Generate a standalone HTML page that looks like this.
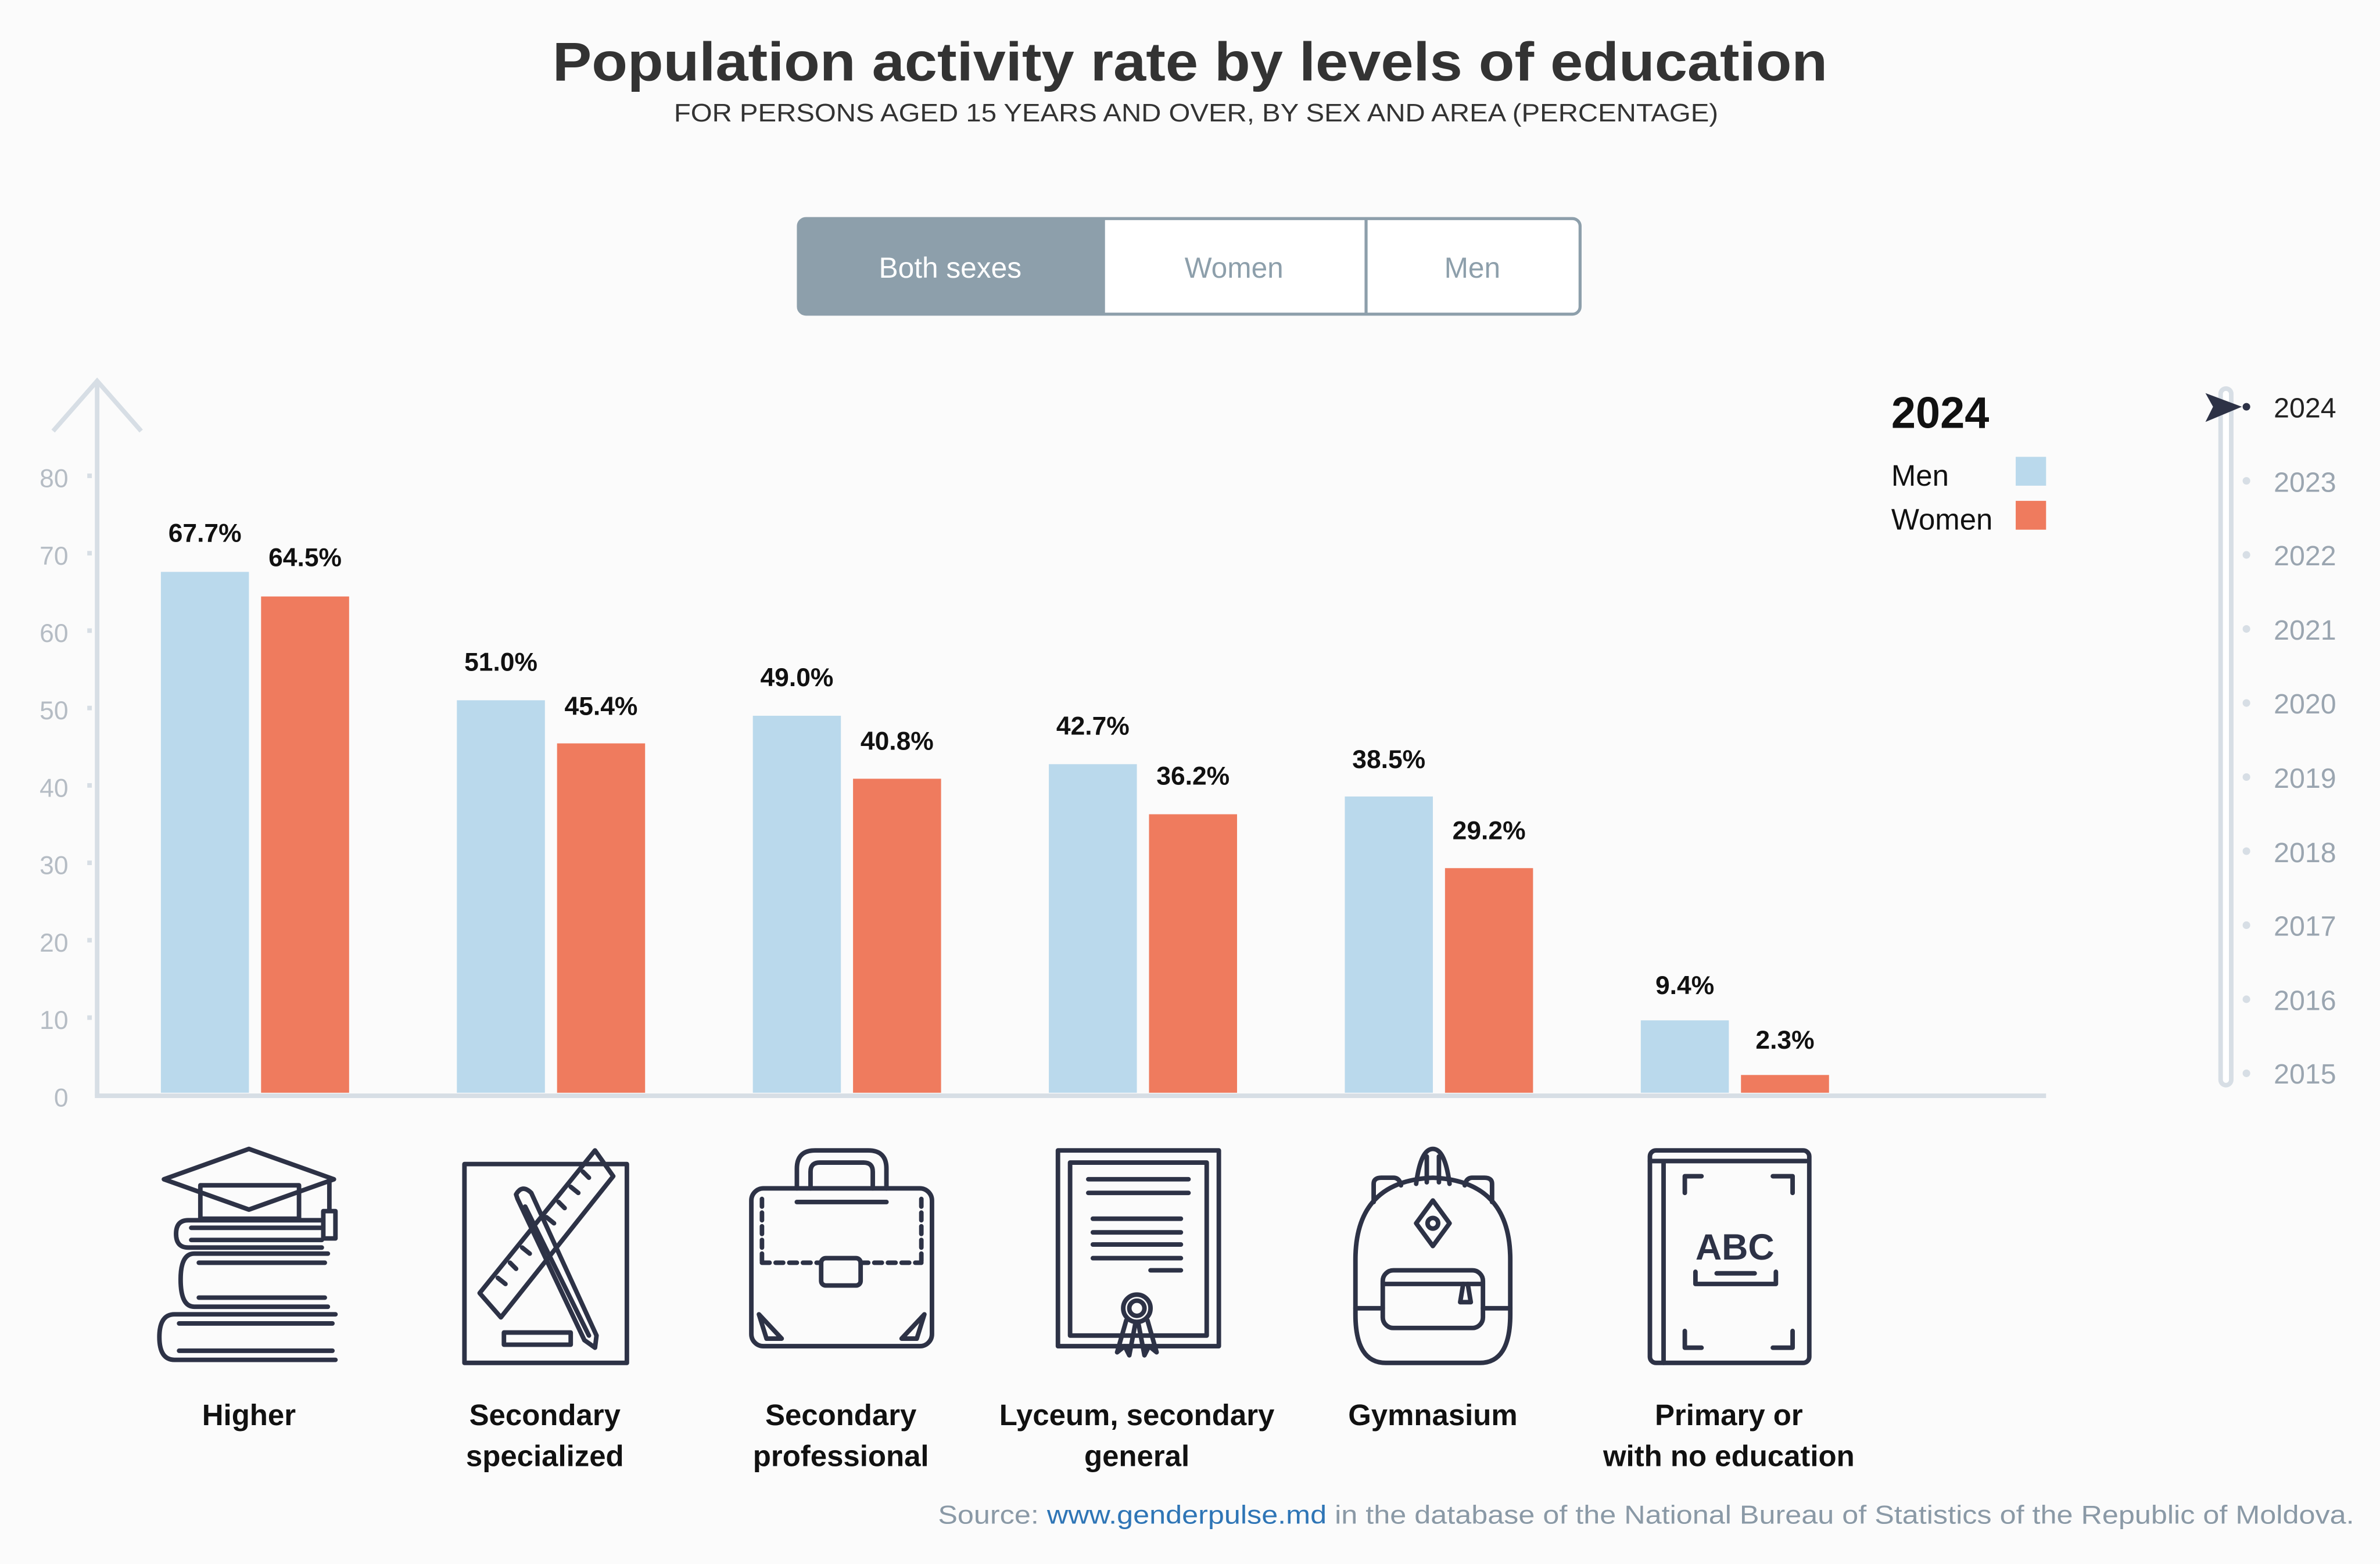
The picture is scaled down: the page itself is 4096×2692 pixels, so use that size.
<!DOCTYPE html>
<html><head><meta charset="utf-8"><style>
html,body{margin:0;padding:0;background:#fbfbfb;}
svg{display:block;}
text{font-family:"Liberation Sans",sans-serif;}
</style></head><body>
<svg width="4096" height="2692" viewBox="0 0 1568 1030.5" xmlns="http://www.w3.org/2000/svg">
<rect width="1568" height="1030.5" fill="#fbfbfb"/>
<text x="784" y="53" text-anchor="middle" font-size="36" font-weight="bold" fill="#333" textLength="840" lengthAdjust="spacingAndGlyphs">Population activity rate by levels of education</text>
<text x="788" y="80" text-anchor="middle" font-size="16.5" fill="#333" textLength="688" lengthAdjust="spacingAndGlyphs">FOR PERSONS AGED 15 YEARS AND OVER, BY SEX AND AREA (PERCENTAGE)</text>

<!-- buttons -->
<rect x="526" y="144" width="515" height="63" rx="5" fill="#fff" stroke="#8d9fab" stroke-width="2"/>
<path d="M531 144 H728 V207 H531 Q526 207 526 202 V149 Q526 144 531 144 Z" fill="#8d9fab"/>
<line x1="900" y1="144" x2="900" y2="207" stroke="#8d9fab" stroke-width="2"/>
<text x="626" y="183" text-anchor="middle" font-size="19" fill="#fff">Both sexes</text>
<text x="813" y="183" text-anchor="middle" font-size="19" fill="#8d9fab">Women</text>
<text x="970" y="183" text-anchor="middle" font-size="19" fill="#8d9fab">Men</text>

<!-- axes -->
<g stroke="#d7dee5" stroke-width="3" fill="none">
<line x1="64" y1="252" x2="64" y2="722"/>
<polyline points="35,284 64,251 93,284"/>
<line x1="62.5" y1="722" x2="1348" y2="722"/>
</g>
<g font-size="17" fill="#b5bcc4" text-anchor="end">
<text x="45" y="729">0</text><text x="45" y="678">10</text><text x="45" y="627">20</text><text x="45" y="576">30</text><text x="45" y="525">40</text><text x="45" y="474">50</text><text x="45" y="423">60</text><text x="45" y="372">70</text><text x="45" y="321">80</text>
</g>
<g fill="#d7dee5">
<rect x="57.5" y="669" width="3" height="3"/><rect x="57.5" y="618" width="3" height="3"/><rect x="57.5" y="567" width="3" height="3"/><rect x="57.5" y="516" width="3" height="3"/><rect x="57.5" y="465" width="3" height="3"/><rect x="57.5" y="414" width="3" height="3"/><rect x="57.5" y="363" width="3" height="3"/><rect x="57.5" y="312" width="3" height="3"/>
</g>

<!-- bars -->
<g fill="#bad9ec">
<rect x="106" y="376.8" width="58" height="343.2"/>
<rect x="301" y="461.4" width="58" height="258.6"/>
<rect x="496" y="471.6" width="58" height="248.4"/>
<rect x="691" y="503.5" width="58" height="216.5"/>
<rect x="886" y="524.8" width="58" height="195.2"/>
<rect x="1081" y="672.3" width="58" height="47.7"/>
</g>
<g fill="#ef7b5e">
<rect x="172" y="393" width="58" height="327"/>
<rect x="367" y="489.8" width="58" height="230.2"/>
<rect x="562" y="513.1" width="58" height="206.9"/>
<rect x="757" y="536.5" width="58" height="183.5"/>
<rect x="952" y="572" width="58" height="148"/>
<rect x="1147" y="708.3" width="58" height="11.7"/>
</g>
<g font-size="17" font-weight="bold" fill="#111" text-anchor="middle">
<text x="135" y="357">67.7%</text><text x="201" y="373">64.5%</text>
<text x="330" y="442">51.0%</text><text x="396" y="471">45.4%</text>
<text x="525" y="452">49.0%</text><text x="591" y="494">40.8%</text>
<text x="720" y="484">42.7%</text><text x="786" y="517">36.2%</text>
<text x="915" y="506">38.5%</text><text x="981" y="553">29.2%</text>
<text x="1110" y="655">9.4%</text><text x="1176" y="691">2.3%</text>
</g>

<!-- legend -->
<text x="1246" y="282" font-size="29" font-weight="bold" fill="#111">2024</text>
<text x="1246" y="320" font-size="19.5" fill="#111">Men</text>
<text x="1246" y="349" font-size="19.5" fill="#111">Women</text>
<rect x="1328" y="301" width="20" height="19" fill="#bad9ec"/>
<rect x="1328" y="330" width="20" height="19" fill="#ef7b5e"/>

<!-- slider -->
<rect x="1463" y="256" width="7" height="459" rx="3.5" fill="#fff" stroke="#d7dee5" stroke-width="3"/>
<path d="M1453 259 L1477 268 L1453 278 L1458 268 Z" fill="#2d3246"/>
<circle cx="1480" cy="268" r="2.5" fill="#2d3246"/>
<g fill="#d7dee5">
<circle cx="1480" cy="316.8" r="2.5"/><circle cx="1480" cy="365.6" r="2.5"/><circle cx="1480" cy="414.4" r="2.5"/><circle cx="1480" cy="463.2" r="2.5"/><circle cx="1480" cy="512" r="2.5"/><circle cx="1480" cy="560.8" r="2.5"/><circle cx="1480" cy="609.6" r="2.5"/><circle cx="1480" cy="658.4" r="2.5"/><circle cx="1480" cy="707.2" r="2.5"/>
</g>
<text x="1498" y="275" font-size="18.5" fill="#222">2024</text>
<g font-size="18.5" fill="#9aa5b0">
<text x="1498" y="324">2023</text><text x="1498" y="372.5">2022</text><text x="1498" y="421.5">2021</text><text x="1498" y="470">2020</text><text x="1498" y="519">2019</text><text x="1498" y="568">2018</text><text x="1498" y="616.5">2017</text><text x="1498" y="665.5">2016</text><text x="1498" y="714">2015</text>
</g>

<!-- icons -->
<g stroke="#2d3246" stroke-width="3" fill="none" stroke-linecap="round" stroke-linejoin="round">
<!-- Higher -->
<polygon points="108,777 164,757 220,777 164,797"/>
<rect x="132" y="781" width="65" height="22"/>
<line x1="217" y1="778" x2="217" y2="798"/>
<rect x="213" y="798" width="8" height="18"/>
<path d="M212 804 H124 Q116 804 116 813 Q116 822 124 822 H212"/>
<path d="M212 809 H126 M212 817 H126"/>
<path d="M216 826 H128 Q119 826 119 843 Q119 861 128 861 H216"/>
<path d="M214 832 H131 M214 855 H131"/>
<path d="M221 866 H115 Q105 866 105 881 Q105 896 115 896 H221"/>
<path d="M219 872 H118 M219 890 H118"/>
<!-- Secondary specialized -->
<rect x="306" y="767" width="107" height="131"/>
<polygon points="392,758 404,775 330,868 316,852"/>
<path d="M384 772 l4 4 M376 782 l5 4 M368 792 l4 4 M360 802 l5 4 M352 812 l4 4 M344 822 l5 4 M336 832 l4 4 M328 842 l5 4"/>
<path d="M340 787 Q344 780 350 786 L393 880 L392 888 L385 883 L341 790 Z"/>
<line x1="346" y1="795" x2="388" y2="880"/>
<rect x="332" y="878" width="44" height="8"/>
<!-- Briefcase -->
<path d="M525 783 V770 Q525 758 537 758 H572 Q584 758 584 770 V783"/>
<path d="M534 783 V772 Q534 766 540 766 H569 Q575 766 575 772 V783"/>
<rect x="495" y="783" width="119" height="104" rx="8"/>
<line x1="525" y1="792" x2="584" y2="792"/>
<path d="M502 790 V832 M607 790 V832 M502 832 H541 M567 832 H607" stroke-dasharray="5,4"/>
<rect x="541" y="829" width="26" height="18" rx="3"/>
<path d="M500 866 L505 882 H515 Z M609 866 L604 882 H594 Z"/>
<!-- Diploma -->
<rect x="697" y="758" width="106" height="129"/>
<rect x="705" y="766" width="90" height="114"/>
<path d="M717 777 H783 M717 786 H783 M720 803 H778 M720 812 H778 M720 820 H778 M720 829 H778 M758 837 H778"/>
<circle cx="749" cy="862" r="9"/>
<circle cx="749" cy="862" r="5"/>
<path d="M742 870 L736 891 L741 887 L744 893 L748 872 M756 870 L762 891 L757 887 L754 893 L750 872"/>
<!-- Backpack -->
<path d="M893 866 V830 Q893 778 944 776 Q995 778 995 830 V866 Q995 898 975 898 H913 Q893 898 893 866 Z"/>
<path d="M933 780 Q936 757 944 757 Q952 757 955 780"/>
<path d="M940 779 V762 M948 779 V762"/>
<path d="M905 792 V780 Q905 776 910 776 H918 Q922 776 923 781"/>
<path d="M983 792 V780 Q983 776 978 776 H970 Q966 776 965 781"/>
<polygon points="944,791 955,806 944,821 933,806"/>
<circle cx="944" cy="806" r="3.5"/>
<rect x="911" y="837" width="66" height="38" rx="7"/>
<line x1="911" y1="846" x2="977" y2="846"/>
<path d="M893 862 H911 M977 862 H995"/>
<path d="M964 846 L962 858 H969 L967 846"/>
<!-- ABC -->
<rect x="1087" y="758" width="105" height="140" rx="4"/>
<path d="M1087 765 H1190 M1096 765 V898"/>
<path d="M1110 786 V775 H1121 M1168 775 H1181 V786 M1110 877 V888 H1121 M1168 888 H1181 V877"/>
<path d="M1117 838 V846 H1170 V838 M1131 839 H1156"/>
</g>
<text x="1143" y="830" text-anchor="middle" font-size="24" font-weight="bold" fill="#2d3246">ABC</text>

<!-- category labels -->
<g font-size="19.5" font-weight="bold" fill="#111" text-anchor="middle">
<text x="164" y="939">Higher</text>
<text x="359" y="939">Secondary</text><text x="359" y="966">specialized</text>
<text x="554" y="939">Secondary</text><text x="554" y="966">professional</text>
<text x="749" y="939">Lyceum, secondary</text><text x="749" y="966">general</text>
<text x="944" y="939">Gymnasium</text>
<text x="1139" y="939">Primary or</text><text x="1139" y="966">with no education</text>
</g>
<text x="1551" y="1004" text-anchor="end" font-size="17" fill="#8a99a6" textLength="933" lengthAdjust="spacingAndGlyphs">Source: <tspan fill="#2e75b6">www.genderpulse.md</tspan> in the database of the National Bureau of Statistics of the Republic of Moldova.</text>
</svg>
</body></html>
